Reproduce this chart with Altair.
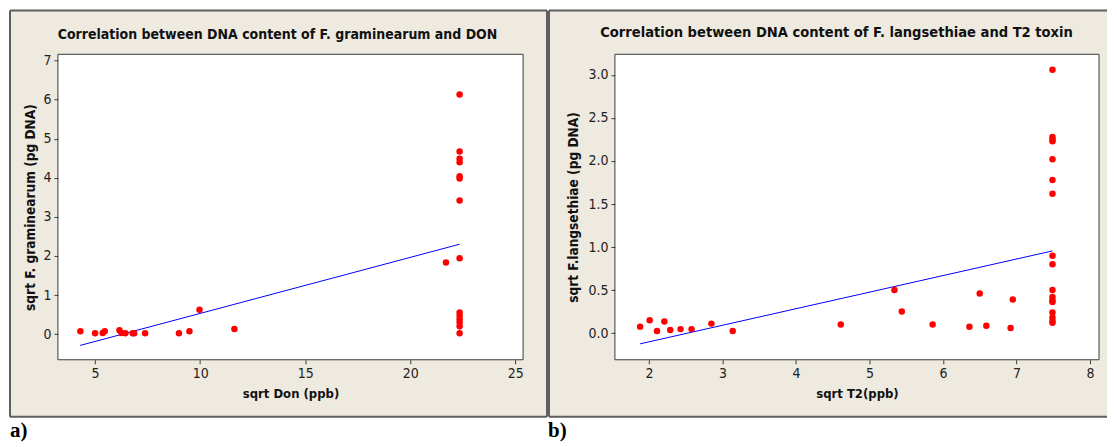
import altair as alt
import pandas as pd

# ---------------- data ----------------
# Panel a: sqrt DON (ppb) vs sqrt F. graminearum DNA
don_x = [4.30, 5.00, 5.36, 5.46, 6.16, 6.26, 6.44, 6.79, 6.86, 7.38, 8.99, 9.49, 9.97, 11.63,
         21.70, 22.35, 22.35, 22.35, 22.35, 22.35, 22.35, 22.35, 22.35, 22.35, 22.35, 22.35,
         22.35, 22.35, 22.35]
gram_y = [0.07, 0.02, 0.03, 0.07, 0.10, 0.03, 0.02, 0.02, 0.02, 0.02, 0.02, 0.07, 0.62, 0.13,
          1.83, 6.13, 4.67, 4.49, 4.40, 4.04, 3.98, 3.42, 1.94, 0.55, 0.47, 0.38, 0.30, 0.20,
          0.02]
fit_a_x = [4.29, 22.35]
fit_a_y = [-0.29, 2.30]

# Panel b: sqrt T2 (ppb) vs sqrt F. langsethiae DNA
t2_x = [1.88, 2.01, 2.11, 2.21, 2.29, 2.43, 2.58, 2.85, 3.14, 4.61, 5.34, 5.44, 5.86, 6.36,
        6.50, 6.59, 6.92, 6.95,
        7.49, 7.49, 7.49, 7.49, 7.49, 7.49, 7.49, 7.49, 7.49, 7.49, 7.49, 7.49, 7.49, 7.49,
        7.49, 7.49, 7.49]
lang_y = [0.075, 0.15, 0.023, 0.135, 0.035, 0.046, 0.046, 0.11, 0.023, 0.10, 0.50, 0.25, 0.10,
          0.073, 0.46, 0.085, 0.058, 0.39,
          3.06, 2.28, 2.25, 2.23, 2.02, 1.78, 1.62, 0.90, 0.80, 0.50, 0.42, 0.38, 0.36, 0.24,
          0.18, 0.14, 0.12]
fit_b_x = [1.88, 7.49]
fit_b_y = [-0.125, 0.955]

ticks_a_x = [5, 10, 15, 20, 25]
ticks_a_y = [0, 1, 2, 3, 4, 5, 6, 7]
ticks_b_x = [2, 3, 4, 5, 6, 7, 8]
ticks_b_y = [0.0, 0.5, 1.0, 1.5, 2.0, 2.5, 3.0]

title_a = "Correlation between DNA content of F. graminearum and DON"
title_b = "Correlation between DNA content of F. langsethiae and T2 toxin"

# ---------------- style ----------------
BEIGE = "#EEEAE0"
BORDER = "#5E5E5E"
FONT = "DejaVu Sans Condensed, DejaVu Sans"
SERIF = "Liberation Serif"

one = pd.DataFrame({"k": [0]})


def rule(x1, x2, y1, y2, color=BORDER, width=2):
    return alt.Chart(one).mark_rule(color=color, strokeWidth=width).encode(
        x=alt.value(x1), x2=alt.value(x2), y=alt.value(y1), y2=alt.value(y2))


def panel(px, py, fx, fy, xdom, ydom, xt, yt, yfmt, xtitle, ytitle, title, tsize,
          w, h, box, tpos, ytx, letter, letter_x, right_border):
    bx1, bx2, by1, by2 = box
    layers = [
        alt.Chart(one).mark_rect(fill=BEIGE, strokeWidth=0).encode(
            x=alt.value(bx1), x2=alt.value(bx2), y=alt.value(by1), y2=alt.value(by2)),
        rule(bx1, bx1, by1, by2),
        rule(bx1, bx2, by1, by1),
        rule(bx1, bx2, by2, by2),
    ]
    if right_border:
        layers.append(rule(bx2, bx2, by1, by2))
    layers.append(
        alt.Chart(one).mark_rect(fill="white", stroke="#3A3A3A", strokeWidth=1).encode(
            x=alt.value(0), x2=alt.value(w), y=alt.value(0), y2=alt.value(h)))
    layers.append(
        alt.Chart(one).mark_text(font=FONT, fontSize=tsize, fontWeight="bold", color="#111111",
                                 align="center", baseline="middle").encode(
            x=alt.value(tpos[0]), y=alt.value(tpos[1]), text=alt.value(title)))
    layers.append(
        alt.Chart(one).mark_text(font=SERIF, fontSize=21, fontWeight="bold", color="#000000",
                                 align="left", baseline="alphabetic").encode(
            x=alt.value(letter_x), y=alt.value(by2 + 20), text=alt.value(letter)))

    xs = alt.Scale(domain=xdom, nice=False, zero=False)
    ys = alt.Scale(domain=ydom, nice=False, zero=False)
    fit = pd.DataFrame({"x": fx, "y": fy})
    pts = pd.DataFrame({"x": px, "y": py})

    layers.append(
        alt.Chart(fit).mark_line(color="#0000FF", strokeWidth=1).encode(
            x=alt.X("x:Q", scale=xs), y=alt.Y("y:Q", scale=ys)))
    layers.append(
        alt.Chart(pts).mark_circle(size=42, color="#FF0000", opacity=1).encode(
            x=alt.X("x:Q", scale=xs,
                    axis=alt.Axis(values=xt, format="d", title=xtitle, domain=False, grid=False,
                                  tickSize=4, tickColor="#3A3A3A", labelFont=FONT,
                                  labelFontSize=14, labelColor="#222222", labelPadding=3,
                                  titleFont=FONT, titleFontSize=13, titleFontWeight="bold",
                                  titleColor="#111111", titleY=34, titleBaseline="middle",
                                  zindex=1)),
            y=alt.Y("y:Q", scale=ys,
                    axis=alt.Axis(values=yt, format=yfmt, title=ytitle, domain=False,
                                  grid=False, tickSize=4, tickColor="#3A3A3A", labelFont=FONT,
                                  labelFontSize=14, labelColor="#222222", labelPadding=3,
                                  titleFont=FONT, titleFontSize=13.6, titleFontWeight="bold",
                                  titleColor="#111111", titleAngle=270, titleX=ytx,
                                  titleY=h / 2, titleAlign="center", titleBaseline="middle",
                                  zindex=1))))
    return alt.layer(*layers).properties(width=w, height=h)


pa = panel(don_x, gram_y, fit_a_x, fit_a_y, [3.23, 25.37], [-0.657, 7.16],
           ticks_a_x, ticks_a_y, "d", "sqrt Don (ppb)", "sqrt F. graminearum (pg DNA)",
           title_a, 14, 466, 306, (-48, 490, -44, 363), (220, -19), -27, "a)", -48, True)

pb = panel(t2_x, lang_y, fit_b_x, fit_b_y, [1.537, 8.123], [-0.31, 3.24],
           ticks_b_x, ticks_b_y, ".1f", "sqrt T2(ppb)", "sqrt F.langsethiae (pg DNA)",
           title_b, 14.6, 485, 306, (-66, 493, -44, 363), (222, -21), -41, "b)", -67, False)

chart = alt.hconcat(pa, pb, spacing=92, bounds="flush").properties(
    padding=0, background="white").configure_view(stroke="transparent")

chart.save("out.html", embed_options={"renderer": "svg", "actions": False})
